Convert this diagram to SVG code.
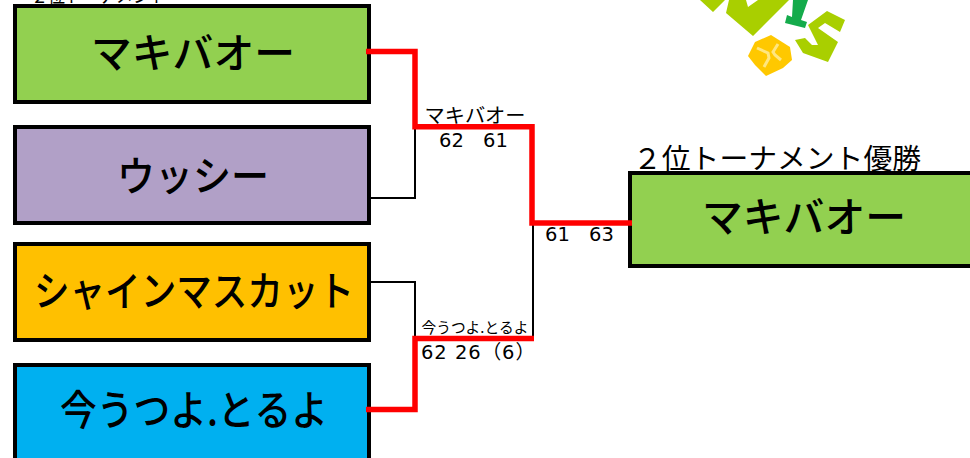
<svg xmlns="http://www.w3.org/2000/svg" width="970" height="458" viewBox="0 0 970 458">
<style>
text{font-family:"Noto Sans CJK JP","Liberation Sans",sans-serif;fill:#000;text-anchor:middle}
.box{stroke:#000;stroke-width:4}
.big{font-size:41px;font-weight:500}
.num{font-family:"DejaVu Sans","Noto Sans CJK JP",sans-serif;font-size:19.500px;text-anchor:start}
.win{fill:none;stroke:#f00;stroke-width:5.5}
.lose{fill:none;stroke:#000;stroke-width:2}
</style>
<g id="logo">
<path d="M700 0L713 12L725 0ZM729 0L726 13L753 36L789 0L758 0L748 7L746 0Z" fill="#a9cf00"/>
<path d="M793 0L792 17L787 15L785 23L805 28L807 22L801 20L808 0Z" fill="#14ab4b"/>
<path d="M827 11L845 20L840 32L825 23L818 28L838 42L828 62L803 53L795 40L805 38L812 45L818 45L808 25Z" fill="#a9cf00"/>
<path d="M748 56L755 42L771 35L790 47L792 60L783 68L766 76L755 65Z" fill="#ffc800"/>
<path d="M757 48L768 53L769 58L764 67M778 44L773 52L775 55L781 60" fill="none" stroke="#ffe680" stroke-width="3"/>
</g>
<text id="title-top" x="99" y="3" font-size="20" textLength="136" lengthAdjust="spacingAndGlyphs">２位トーナメント</text>
<g id="n1"><rect class="box" x="15" y="6" width="354" height="96" fill="#92d050"/><text class="big" x="193" y="68" textLength="204" lengthAdjust="spacingAndGlyphs">マキバオー</text></g>
<g id="n2"><rect class="box" x="15" y="127" width="354" height="96" fill="#b1a0c7"/><text class="big" x="193" y="191" textLength="152" lengthAdjust="spacingAndGlyphs">ウッシー</text></g>
<g id="n3"><rect class="box" x="15" y="244" width="354" height="96" fill="#ffc000"/><text class="big" x="194" y="306" textLength="320" lengthAdjust="spacingAndGlyphs">シャインマスカット</text></g>
<g id="n4"><rect class="box" x="15" y="365" width="354" height="96" fill="#00b0f0"/><text class="big" x="194" y="425" textLength="268" lengthAdjust="spacingAndGlyphs">今うつよ.とるよ</text></g>
<g id="n5"><rect class="box" x="630" y="173" width="354" height="93" fill="#92d050"/><text class="big" x="804" y="232" textLength="204" lengthAdjust="spacingAndGlyphs">マキバオー</text></g>
<g id="connectors">
<path class="lose" d="M369 198H415V127"/>
<path class="lose" d="M369 282H415V339"/>
<path class="lose" d="M533 339V223"/>
<path class="win" d="M366 51.500H415V126.700H532V223H632"/>
<path class="win" d="M366 409.500H415V338.500H534"/>
</g>
<text x="475" y="123" font-size="20" textLength="101" lengthAdjust="spacingAndGlyphs">マキバオー</text>
<text class="num" x="439" y="147">62</text><text class="num" x="483" y="147">61</text>
<text class="num" x="545" y="241">61</text><text class="num" x="589" y="241">63</text>
<text x="475" y="333" font-size="15" textLength="107" lengthAdjust="spacingAndGlyphs">今うつよ.とるよ</text>
<text class="num" x="421" y="359" textLength="114" lengthAdjust="spacing">62 26（6）</text>
<text x="777" y="169" font-size="28" textLength="288" lengthAdjust="spacingAndGlyphs">２位トーナメント優勝</text>
</svg>
